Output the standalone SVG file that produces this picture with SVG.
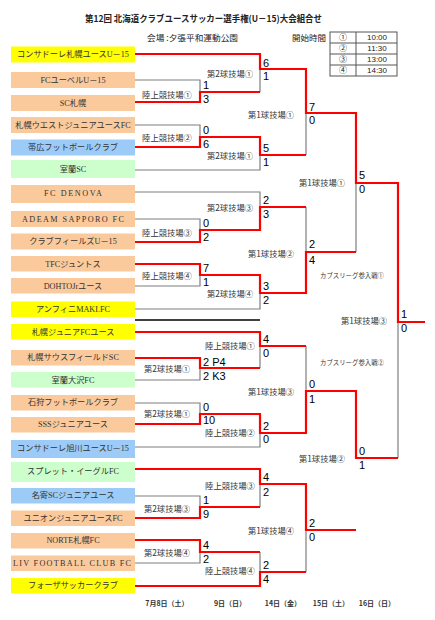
<svg xmlns="http://www.w3.org/2000/svg" width="435" height="620" viewBox="0 0 435 620">
<style>
.bg{fill:#ffffff}
.y{fill:#ffff00}.o{fill:#fbca9c}.b{fill:#9dcbf7}.g{fill:#ccffcc}
.tn{font-family:"Liberation Serif","Noto Sans CJK JP",serif;font-size:8.2px;fill:#333;text-anchor:middle;dominant-baseline:central}
.lb{font-family:"Noto Sans CJK JP","Noto Sans",sans-serif;font-size:8.3px;fill:#333;text-anchor:middle;dominant-baseline:central}
.kb{font-family:"Noto Sans CJK JP","Noto Sans",sans-serif;font-size:6.4px;fill:#333;text-anchor:middle;dominant-baseline:central}
.dt{font-family:"Noto Sans CJK JP","Noto Sans",sans-serif;font-size:7px;font-weight:bold;fill:#333;text-anchor:middle;dominant-baseline:central}
.sc{font-family:"Liberation Sans",Arial,sans-serif;font-size:11px;fill:#000}
.hd{font-family:"Noto Sans CJK JP","Noto Sans",sans-serif;font-size:8.5px;fill:#222;dominant-baseline:central}
.tt{font-family:"Noto Sans CJK JP","Noto Sans",sans-serif;font-size:9px;font-weight:bold;fill:#222;dominant-baseline:central}
.tb{font-family:"Liberation Sans","Noto Sans CJK JP",sans-serif;font-size:8px;fill:#222;text-anchor:middle;dominant-baseline:central}
.gl{fill:none;stroke:#7f7f7f;stroke-width:1.2}
.rl{fill:none;stroke:#ff0000;stroke-width:2.2}
.bl{fill:none;stroke:#000;stroke-width:1.5}
.tbl{fill:none;stroke:#555;stroke-width:1}
</style>
<rect class="bg" x="0" y="0" width="435" height="620"/>
<g id="header">
<text class="tt" x="85" y="18" textLength="237" lengthAdjust="spacingAndGlyphs">第12回  北海道クラブユースサッカー選手権(U－15)大会組合せ</text>
<text class="hd" x="147" y="37" textLength="91" lengthAdjust="spacingAndGlyphs">会場 :夕張平和運動公園</text>
<text class="hd" x="292" y="37">開始時間</text>
</g>
<g id="time-table">
<rect class="tbl" x="330" y="32" width="67" height="44"/>
<path class="tbl" d="M356,32V76M330,43H397M330,54H397M330,65H397"/>
<text class="tb" x="343" y="37.5">①</text><text class="tb" x="377" y="37.5">10:00</text>
<text class="tb" x="343" y="48.5">②</text><text class="tb" x="377" y="48.5">11:30</text>
<text class="tb" x="343" y="59.5">③</text><text class="tb" x="377" y="59.5">13:00</text>
<text class="tb" x="343" y="70.5">④</text><text class="tb" x="377" y="70.5">14:30</text>
</g>
<g id="connectors">
<path class="gl" d="M135,80H200V92M135,125H200V137M135,219H200V230M200,275V286H135M200,368V380H135M135,403H200V414M135,496H200V507M200,552V563H135"/>
<path class="gl" d="M260,69V92M260,155V170H135M135,192H260V207M260,293V309H135M260,346V368M260,433V447H135M260,484V507M260,552V572"/>
<path class="gl" d="M306,113V155M306,207V252M306,346V391M306,530V572M356,183V252M356,391V458M398,322V458"/>
<path class="bl" d="M135,320H260"/>
<path class="rl" d="M135,54H260V69H306V113H356V183H398V322H425"/>
<path class="rl" d="M135,102H200V92H260"/>
<path class="rl" d="M135,147H200V137H260V155H306"/>
<path class="rl" d="M135,242H200V230H260V207H306"/>
<path class="rl" d="M135,264H200V275H260V293H306V252H356"/>
<path class="rl" d="M135,332H260V346H306"/>
<path class="rl" d="M135,358H200V368H260"/>
<path class="rl" d="M135,424H200V414H260V433H306V391H356V458H398"/>
<path class="rl" d="M135,469H260V484H306V530H356"/>
<path class="rl" d="M135,518H200V507H260"/>
<path class="rl" d="M135,540H200V552H260"/>
<path class="rl" d="M135,586H260V572H306"/>
</g>
<g id="teams">
<g id="t1"><rect class="y" x="11" y="46.5" width="124" height="16"/><text class="tn" x="73" y="54.5">コンサドーレ札幌ユースU－15</text></g>
<g id="t2"><rect class="o" x="11" y="72" width="124" height="16"/><text class="tn" x="73" y="80">FCユーベルU－15</text></g>
<g id="t3"><rect class="o" x="11" y="95" width="124" height="16"/><text class="tn" x="73" y="103">SC札幌</text></g>
<g id="t4"><rect class="o" x="11" y="117" width="124" height="16"/><text class="tn" x="73" y="125">札幌ウエストジュニアユースFC</text></g>
<g id="t5"><rect class="b" x="11" y="139.5" width="124" height="16"/><text class="tn" x="73" y="147.5">帯広フットボールクラブ</text></g>
<g id="t6"><rect class="g" x="11" y="160" width="124" height="18"/><text class="tn" x="73" y="169">室蘭SC</text></g>
<g id="t7"><rect class="o" x="11" y="185" width="124" height="18"/><text class="tn" x="73" y="193" textLength="58" lengthAdjust="spacing">FC DENOVA</text></g>
<g id="t8"><rect class="o" x="11" y="211" width="124" height="16"/><text class="tn" x="73" y="219" textLength="102" lengthAdjust="spacing">ADEAM SAPPORO FC</text></g>
<g id="t9"><rect class="o" x="11" y="233.5" width="124" height="16"/><text class="tn" x="73" y="241.5">クラブフィールズU－15</text></g>
<g id="t10"><rect class="o" x="11" y="256" width="124" height="15.5"/><text class="tn" x="73" y="264">TFCジュントス</text></g>
<g id="t11"><rect class="o" x="11" y="278" width="124" height="15.5"/><text class="tn" x="73" y="286">DOHTOJrユース</text></g>
<g id="t12"><rect class="y" x="11" y="301.5" width="124" height="15.5"/><text class="tn" x="73" y="309">アンフィニMAKI.FC</text></g>
<g id="t13"><rect class="y" x="11" y="324" width="124" height="15.5"/><text class="tn" x="73" y="332">札幌ジュニアFCユース</text></g>
<g id="t14"><rect class="o" x="11" y="350" width="124" height="15.5"/><text class="tn" x="73" y="357.5">札幌サウスフィールドSC</text></g>
<g id="t15"><rect class="g" x="11" y="372" width="124" height="15.5"/><text class="tn" x="73" y="380">室蘭大沢FC</text></g>
<g id="t16"><rect class="o" x="11" y="395" width="124" height="15.5"/><text class="tn" x="73" y="402.5">石狩フットボールクラブ</text></g>
<g id="t17"><rect class="o" x="11" y="417" width="124" height="15.5"/><text class="tn" x="73" y="424.5">SSSジュニアユース</text></g>
<g id="t18"><rect class="b" x="11" y="440" width="124" height="18"/><text class="tn" x="73" y="448">コンサドーレ旭川ユースU－15</text></g>
<g id="t19"><rect class="g" x="11" y="462" width="124" height="20"/><text class="tn" x="73" y="471">スプレット・イーグルFC</text></g>
<g id="t20"><rect class="b" x="11" y="488" width="124" height="15.5"/><text class="tn" x="73" y="495.5">名寄SCジュニアユース</text></g>
<g id="t21"><rect class="o" x="11" y="510.5" width="124" height="15.5"/><text class="tn" x="73" y="518.5">ユニオンジュニアユースFC</text></g>
<g id="t22"><rect class="o" x="11" y="533" width="124" height="15.5"/><text class="tn" x="73" y="540.5">NORTE札幌FC</text></g>
<g id="t23"><rect class="o" x="11" y="555.5" width="124" height="15.5"/><text class="tn" x="72" y="563.5" textLength="118" lengthAdjust="spacing">LIV FOOTBALL CLUB FC</text></g>
<g id="t24"><rect class="y" x="11" y="578" width="124" height="15.5"/><text class="tn" x="73" y="585.5">フォーザサッカークラブ</text></g>
</g>
<g id="venues">
<text class="lb" x="167" y="94">陸上競技場①</text>
<text class="lb" x="167" y="137">陸上競技場②</text>
<text class="lb" x="167" y="232">陸上競技場③</text>
<text class="lb" x="167" y="275">陸上競技場④</text>
<text class="lb" x="167" y="368">第2球技場①</text>
<text class="lb" x="167" y="413">第2球技場①</text>
<text class="lb" x="167" y="508">第2球技場③</text>
<text class="lb" x="167" y="552">第2球技場④</text>
<text class="lb" x="230" y="73">第2球技場①</text>
<text class="lb" x="230" y="155">第2球技場①</text>
<text class="lb" x="230" y="207">第2球技場③</text>
<text class="lb" x="230" y="293">第2球技場④</text>
<text class="lb" x="230" y="345">陸上競技場①</text>
<text class="lb" x="230" y="432">陸上競技場②</text>
<text class="lb" x="230" y="485">陸上競技場③</text>
<text class="lb" x="230" y="570">陸上競技場④</text>
<text class="lb" x="271" y="114">第1球技場①</text>
<text class="lb" x="271" y="253">第1球技場②</text>
<text class="lb" x="271" y="391">第1球技場③</text>
<text class="lb" x="271" y="530">第1球技場④</text>
<text class="lb" x="322" y="182">第1球技場①</text>
<text class="lb" x="322" y="458">第1球技場②</text>
<text class="lb" x="364" y="320">第1球技場③</text>
<text class="kb" x="352" y="275">カブスリーグ参入戦①</text>
<text class="kb" x="352" y="362">カブスリーグ参入戦②</text>
</g>
<g id="scores">
<text class="sc" x="203" y="89">1</text><text class="sc" x="203" y="103">3</text>
<text class="sc" x="203" y="134">0</text><text class="sc" x="203" y="148">6</text>
<text class="sc" x="203" y="227">0</text><text class="sc" x="203" y="241">2</text>
<text class="sc" x="203" y="272">7</text><text class="sc" x="203" y="286">1</text>
<text class="sc" x="203" y="366">2 P4</text><text class="sc" x="203" y="380">2 K3</text>
<text class="sc" x="203" y="411">0</text><text class="sc" x="203" y="424">10</text>
<text class="sc" x="203" y="504">1</text><text class="sc" x="203" y="518">9</text>
<text class="sc" x="203" y="549">4</text><text class="sc" x="203" y="563">2</text>
<text class="sc" x="263" y="67">6</text><text class="sc" x="263" y="80">1</text>
<text class="sc" x="263" y="152">5</text><text class="sc" x="263" y="166">1</text>
<text class="sc" x="263" y="204">2</text><text class="sc" x="263" y="218">3</text>
<text class="sc" x="263" y="290">3</text><text class="sc" x="263" y="304">2</text>
<text class="sc" x="263" y="343">4</text><text class="sc" x="263" y="357">0</text>
<text class="sc" x="263" y="430">2</text><text class="sc" x="263" y="443">0</text>
<text class="sc" x="263" y="481">4</text><text class="sc" x="263" y="496">2</text>
<text class="sc" x="263" y="569">2</text><text class="sc" x="263" y="583">4</text>
<text class="sc" x="309" y="111">7</text><text class="sc" x="309" y="124">0</text>
<text class="sc" x="309" y="248">2</text><text class="sc" x="309" y="264">4</text>
<text class="sc" x="309" y="388">0</text><text class="sc" x="309" y="403">1</text>
<text class="sc" x="309" y="527">2</text><text class="sc" x="309" y="541">0</text>
<text class="sc" x="359" y="179">5</text><text class="sc" x="359" y="193">0</text>
<text class="sc" x="359" y="455">0</text><text class="sc" x="359" y="469">1</text>
<text class="sc" x="401" y="318">1</text><text class="sc" x="401" y="332">0</text>
</g>
<g id="dates">
<text class="dt" x="167" y="603">7月8日（土）</text>
<text class="dt" x="230" y="603">9日（日）</text>
<text class="dt" x="283" y="603">14日（金）</text>
<text class="dt" x="331" y="603">15日（土）</text>
<text class="dt" x="377" y="603">16日（日）</text>
</g>
</svg>
